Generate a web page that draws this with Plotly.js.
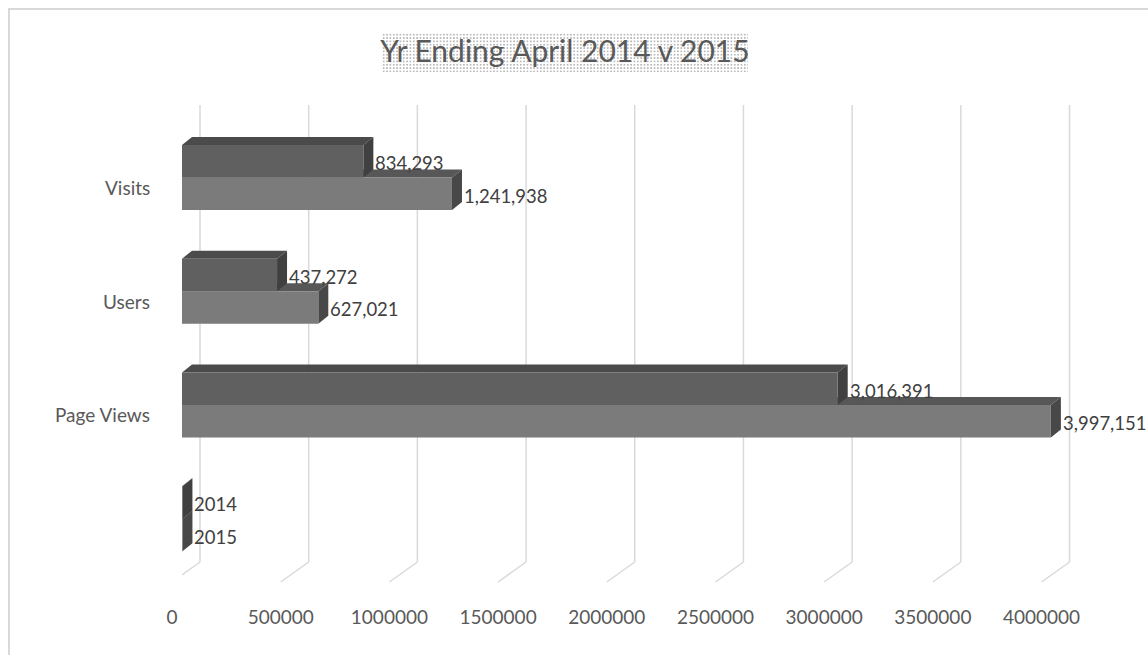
<!DOCTYPE html>
<html>
<head>
<meta charset="utf-8">
<script src="https://cdn.plot.ly/plotly-3.0.1.min.js"></script>
<style>
  html, body { margin: 0; padding: 0; background: #ffffff; overflow: hidden; }
  #wrap { position: relative; width: 1148px; height: 655px; overflow: hidden; }
  #frame { position: absolute; left: 8px; top: 8px; width: 1180px; height: 700px;
           border-top: 2px solid #d9d9d9; border-left: 2px solid #d9d9d9; z-index: 0; }
  #titlebox { position: absolute; left: 382px; top: 33px; width: 366px; height: 39px; z-index: 0;
              background-image: radial-gradient(circle, #b8b8b8 0.7px, rgba(255,255,255,0) 1.1px);
              background-size: 3.35px 3.35px; }
  #chart { position: absolute; left: 0; top: 0; width: 1148px; height: 655px; z-index: 1; }
</style>
</head>
<body>
<div id="wrap">
  <div id="frame"></div>
  <div id="titlebox"></div>
  <div id="chart"></div>
</div>
<script>
// ---- data (bottom to top) ----
const categories = ['', 'Page Views', 'Users', 'Visits'];
const values2014 = [2014, 3016391, 437272, 834293];
const values2015 = [2015, 3997151, 627021, 1241938];
const seriesNames = ['2014', '2015'];
const tickValues = [0, 500000, 1000000, 1500000, 2000000, 2500000, 3000000, 3500000, 4000000];
const tickLabels = ['0', '500000', '1000000', '1500000', '2000000', '2500000', '3000000', '3500000', '4000000'];
const titleText = 'Yr Ending April 2014 v 2015';

// ---- layout constants ----
const W = 1148, H = 655;
const M = {l: 182, r: 53, t: 105, b: 73};
const plotW = W - M.l - M.r, plotH = H - M.t - M.b;
const xRange = [0, 4200000];
const yRange = [-0.556, 3.637];
const BW = 0.286;               // bar thickness (category units)
const DXP = 10, DYP = 8;        // 3D depth in pixels
const ux = (xRange[1] - xRange[0]) / plotW;
const uy = (yRange[1] - yRange[0]) / plotH;
const DX = DXP * ux, DY = DYP * uy;

const col = {
  '2014': {front: '#606060', top: '#4b4b4b', side: '#404040'},
  '2015': {front: '#7b7b7b', top: '#575757', side: '#484848'}
};
const FONT = 'Lato, "Open Sans", sans-serif';
const idx = categories.map((c, i) => i);

const traces = [
  {type: 'bar', orientation: 'h', name: '2015', x: values2015, y: idx, width: BW, offset: -BW,
   marker: {color: col['2015'].front, line: {width: 0}}, hoverinfo: 'x'},
  {type: 'bar', orientation: 'h', name: '2014', x: values2014, y: idx, width: BW, offset: 0,
   marker: {color: col['2014'].front, line: {width: 0}}, hoverinfo: 'x'}
];

const shapes = [];
// back-wall gridlines and floor diagonals
tickValues.forEach(v => {
  shapes.push({type: 'line', layer: 'below', xref: 'x', yref: 'paper',
    xsizemode: 'pixel', xanchor: v, x0: 18, x1: 18,
    ysizemode: 'pixel', yanchor: 0, y0: 20, y1: plotH,
    line: {color: '#d9d9d9', width: 1.5}});
  shapes.push({type: 'line', layer: 'below', xref: 'x', yref: 'paper',
    xsizemode: 'pixel', xanchor: v, x0: -10, x1: 18,
    ysizemode: 'pixel', yanchor: 0, y0: 0, y1: 20,
    line: {color: '#d9d9d9', width: 1.5}});
});

function faces(vals, name, lowOffset) {
  vals.forEach((v, i) => {
    const yb = i + lowOffset, yt = yb + BW;
    shapes.push({type: 'path', layer: 'below', xref: 'x', yref: 'y',
      path: `M0,${yt} L${v},${yt} L${v + DX},${yt + DY} L${DX},${yt + DY} Z`,
      fillcolor: col[name].top, line: {width: 0}});
    shapes.push({type: 'path', layer: 'below', xref: 'x', yref: 'y',
      path: `M${v},${yb} L${v},${yt} L${v + DX},${yt + DY} L${v + DX},${yb + DY} Z`,
      fillcolor: col[name].side, line: {width: 0}});
  });
}
faces(values2015, '2015', -BW);
faces(values2014, '2014', 0);

const fmt = (v, i) => categories[i] === '' ? String(v) : v.toLocaleString('en-US');
const annotations = [];
[[values2014, BW / 2], [values2015, -BW / 2]].forEach(([vals, off]) => {
  vals.forEach((v, i) => {
    annotations.push({xref: 'x', yref: 'y', x: v, y: i + off, xanchor: 'left', yanchor: 'middle',
      xshift: DXP, yshift: -2, showarrow: false, text: fmt(v, i),
      font: {family: FONT, size: 18.5, color: '#404040'}});
  });
});
categories.forEach((c, i) => {
  if (c === '') return;
  annotations.push({xref: 'paper', yref: 'y', x: 0, y: i, xanchor: 'right', yanchor: 'middle',
    xshift: -30, yshift: -10, showarrow: false, text: c,
    font: {family: FONT, size: 19, color: '#595959'}});
});

const layout = {
  width: W, height: H,
  margin: M,
  paper_bgcolor: 'rgba(0,0,0,0)', plot_bgcolor: 'rgba(0,0,0,0)',
  showlegend: false,
  title: {text: titleText, font: {family: FONT, size: 30, color: '#595959'},
          x: 565 / W, xanchor: 'center', y: 1 - 51 / H, yanchor: 'middle'},
  xaxis: {range: xRange, tickvals: tickValues, ticktext: tickLabels, showgrid: false, zeroline: false,
          showline: false, ticks: '', ticklabelshift: -10, ticklabelstandoff: 22,
          tickfont: {family: FONT, size: 19, color: '#595959'}, fixedrange: true},
  yaxis: {range: yRange, showgrid: false, zeroline: false, showline: false, showticklabels: false,
          ticks: '', fixedrange: true},
  shapes: shapes,
  annotations: annotations
};

Plotly.newPlot('chart', traces, layout, {displayModeBar: false, staticPlot: true});
</script>
</body>
</html>
